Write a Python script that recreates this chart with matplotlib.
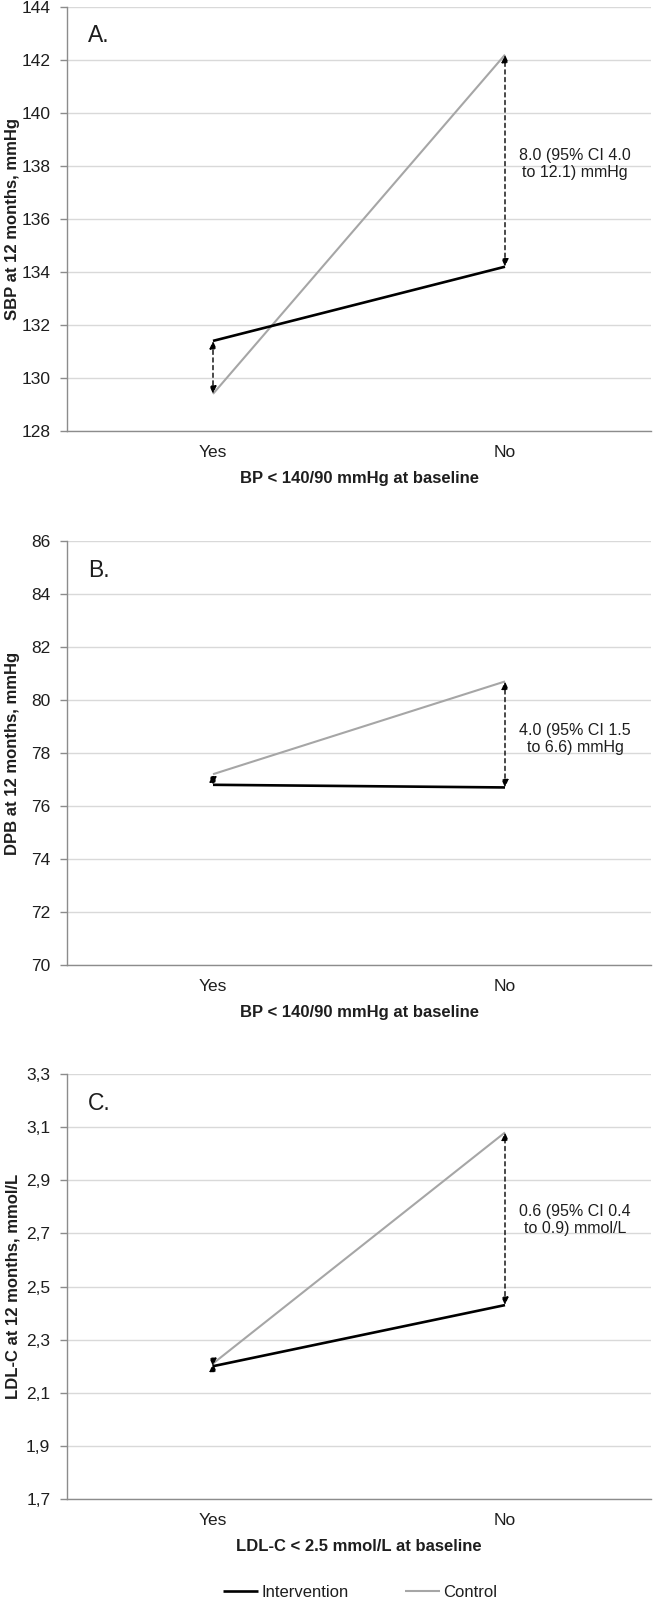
import matplotlib
matplotlib.use('Agg')
import matplotlib.pyplot as plt
from matplotlib.ticker import FuncFormatter

plt.rcParams['font.family'] = ['Liberation Sans', 'DejaVu Sans']

categories = ['Yes', 'No']

sbp_intervention = [131.4, 134.2]
sbp_control = [129.4, 142.2]
dbp_intervention = [76.8, 76.7]
dbp_control = [77.2, 80.7]
ldl_intervention = [2.20, 2.43]
ldl_control = [2.21, 3.08]

panel_letters = ['A.', 'B.', 'C.']
y_labels = ['SBP at 12 months, mmHg', 'DPB at 12 months, mmHg', 'LDL-C at 12 months, mmol/L']
x_labels = ['BP < 140/90 mmHg at baseline', 'BP < 140/90 mmHg at baseline',
            'LDL-C < 2.5 mmol/L at baseline']
annotations = ['8.0 (95% CI 4.0\nto 12.1) mmHg', '4.0 (95% CI 1.5\nto 6.6) mmHg',
               '0.6 (95% CI 0.4\nto 0.9) mmol/L']
annot_y = [138.07, 78.53, 2.75]
y_ranges = [(128, 144, 2), (70, 86, 2), (1.7, 3.3, 0.2)]

W, H = 655, 1601
fig = plt.figure(figsize=(W / 100, H / 100), dpi=100)

axes_px = [(67, 7, 651, 431), (67, 541, 651, 965), (67, 1074, 651, 1499)]
data = [(sbp_intervention, sbp_control), (dbp_intervention, dbp_control),
        (ldl_intervention, ldl_control)]

text_color = '#1e1e1e'
grid_color = '#d9d9d9'
spine_color = '#8c8c8c'

for i, (l, t, r, b) in enumerate(axes_px):
    ax = fig.add_axes([l / W, 1 - b / H, (r - l) / W, (b - t) / H])
    inter, ctrl = data[i]
    x = list(range(len(categories)))
    ax.plot(x, ctrl, color='#a6a6a6', lw=1.5, solid_capstyle='butt', zorder=3, label='Control')
    ax.plot(x, inter, color='black', lw=1.9, solid_capstyle='butt', zorder=4, label='Intervention')
    for xi in x:
        ax.annotate('', xy=(xi, ctrl[xi]), xytext=(xi, inter[xi]),
                    arrowprops=dict(arrowstyle='<|-|>,head_length=0.45,head_width=0.2',
                                    linestyle=(0, (3, 2.5)), lw=1.0, color='black',
                                    shrinkA=0, shrinkB=0, mutation_scale=10),
                    zorder=5)
    ax.text(1.24, annot_y[i], annotations[i], ha='center', va='center',
            fontsize=11.5, color=text_color, linespacing=1.2, zorder=6)

    lo, hi, step = y_ranges[i]
    n = int(round((hi - lo) / step))
    ticks = [lo + k * step for k in range(n + 1)]
    ax.set_ylim(lo, hi)
    ax.set_yticks(ticks)
    if i == 2:
        ax.yaxis.set_major_formatter(FuncFormatter(lambda v, p: f'{v:.1f}'.replace('.', ',')))
    else:
        ax.yaxis.set_major_formatter(FuncFormatter(lambda v, p: f'{v:.0f}'))
    ax.set_xlim(-0.5, 1.5)
    ax.set_xticks(x)
    ax.set_xticklabels(categories)

    ax.grid(axis='y', color=grid_color, lw=1.0, zorder=0)
    ax.set_axisbelow(True)
    for s in ['top', 'right']:
        ax.spines[s].set_visible(False)
    for s in ['left', 'bottom']:
        ax.spines[s].set_color(spine_color)
        ax.spines[s].set_linewidth(1.0)
    ax.tick_params(axis='y', length=5, width=1.0, color=spine_color, pad=7,
                   labelsize=12.5, labelcolor=text_color)
    ax.tick_params(axis='x', length=0, pad=10, labelsize=12.5, labelcolor=text_color)

    ax.set_ylabel(y_labels[i], fontsize=12, fontweight='bold', color=text_color)
    ax.yaxis.set_label_coords(-(67 - 13) / 584, 0.5)
    ax.yaxis.label.set_verticalalignment('center')
    ax.set_xlabel(x_labels[i], fontsize=12, fontweight='bold', color=text_color)
    ax.xaxis.set_label_coords(0.5, -47 / 424)
    ax.xaxis.label.set_verticalalignment('center')

    ax.text((88 - 67) / 584, 1 - 29 / 424, panel_letters[i], transform=ax.transAxes,
            ha='left', va='center', fontsize=16.5, color=text_color)

    if i == 2:
        handles, labels = ax.get_legend_handles_labels()
        order = [1, 0]
        fig.legend([handles[k] for k in order], [labels[k] for k in order],
                   loc='center', bbox_to_anchor=(360 / W, 1 - 1592 / H), ncol=2,
                   frameon=False, fontsize=12, handlelength=2.1, handletextpad=0.2,
                   columnspacing=3.4, labelcolor=text_color)

fig.savefig('out.png', dpi=100)
